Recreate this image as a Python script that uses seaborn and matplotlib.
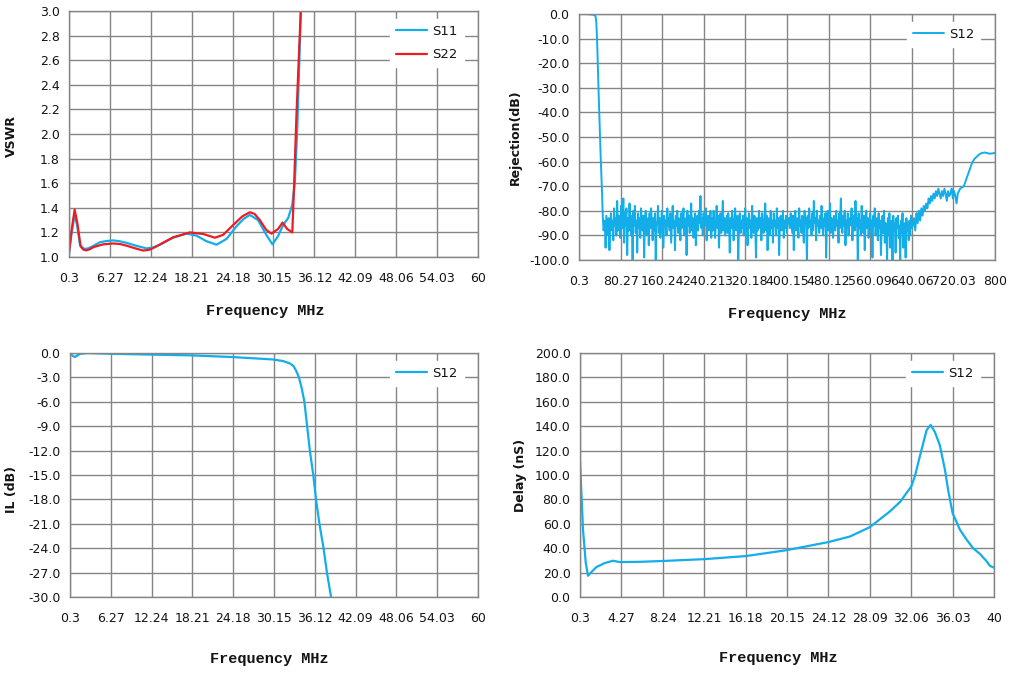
import numpy as np
import pandas as pd
import matplotlib
matplotlib.use("Agg")
import matplotlib.pyplot as plt
from matplotlib.ticker import FormatStrFormatter
import seaborn as sns

# ---------------- DATA ----------------
# VSWR (top-left)
vswr_s11_f = [0.3, 0.69, 1.13, 1.52, 1.9, 2.3, 2.63, 3.2, 3.85, 4.82, 5.8, 6.77, 7.7, 8.71, 10.2,
              11.63, 12.6, 13.57, 15.5, 17.46, 18.9, 20.38, 21.84, 23.3, 24.75, 25.8, 26.7, 27.9,
              29.1, 30.0, 30.8, 31.56, 32.3, 32.9, 33.26, 33.6, 33.9, 34.14, 34.5]
vswr_s11 = [1.03, 1.195, 1.345, 1.25, 1.10, 1.075, 1.065, 1.072, 1.09, 1.12, 1.13, 1.135, 1.128,
            1.115, 1.09, 1.07, 1.078, 1.10, 1.157, 1.19, 1.174, 1.128, 1.10, 1.147, 1.25, 1.31,
            1.342, 1.30, 1.18, 1.103, 1.168, 1.26, 1.317, 1.426, 1.60, 2.01, 2.55, 3.0, 3.6]
vswr_s22_f = [0.3, 0.69, 1.13, 1.52, 2.0, 2.4, 2.78, 3.3, 3.85, 5.3, 6.77, 7.8, 8.71, 10.0, 11.14,
              12.1, 13.09, 15.5, 17.95, 19.9, 21.6, 22.8, 24.27, 25.6, 26.7, 27.4, 28.16, 29.1,
              29.86, 30.83, 31.47, 32.15, 32.9, 33.17, 33.5, 33.9, 34.14, 34.5]
vswr_s22 = [1.03, 1.22, 1.385, 1.277, 1.087, 1.06, 1.054, 1.062, 1.08, 1.103, 1.11, 1.105, 1.092,
            1.07, 1.052, 1.06, 1.087, 1.16, 1.20, 1.187, 1.157, 1.18, 1.26, 1.33, 1.364, 1.35,
            1.30, 1.22, 1.19, 1.228, 1.28, 1.228, 1.20, 1.60, 2.145, 2.69, 3.0, 3.6]

# Rejection (top-right)
rej_start_f = [0.3, 10.0, 20.0, 28.0, 32.0, 33.5, 35.0, 38.5, 42.0, 44.5, 46.0, 47.5]
rej_start = [0.0, 0.0, -0.1, -0.3, -0.8, -3.0, -10.0, -35.0, -58.0, -72.0, -82.0, -88.0]
rej_noise_range = (48.5, 640.0)
rej_noise = [
    -87, -84, -95, -82, -86, -90, -83, -96, -85, -81, -88, -84, -92, -79, -86, -83, -90, -76, -88, -82,
    -85, -91, -78, -84, -87, -75, -93, -81, -86, -79, -98, -83, -88, -77, -85, -90, -82, -100, -80, -86,
    -78, -89, -84, -97, -81, -87, -83, -91, -79, -85, -88, -82, -99, -84, -80, -90, -86, -83, -94, -81,
    -87, -79, -85, -92, -83, -88, -81, -100, -86, -84, -78, -89, -83, -91, -85, -80, -87, -95, -82, -86,
    -84, -90, -79, -86, -83, -88, -81, -93, -85, -78, -87, -84, -96, -82, -86, -80, -89, -83, -85, -92,
    -81, -87, -84, -79, -90, -85, -83, -98, -80, -86, -82, -89, -84, -77, -88, -83, -91, -85, -81, -94,
    -86, -82, -88, -80, -85, -74, -87, -83, -90, -81, -86, -84, -79, -92, -85, -82, -88, -86, -80, -91,
    -83, -88, -80, -86, -91, -84, -78, -87, -82, -95, -85, -81, -89, -84, -76, -88, -83, -90, -86, -82,
    -89, -81, -85, -97, -83, -87, -80, -86, -92, -84, -79, -88, -85, -82, -100, -86, -81, -89, -84, -87,
    -82, -90, -85, -79, -88, -83, -94, -86, -81, -87, -84, -91, -78, -85, -89, -82, -86, -99, -83, -88,
    -85, -80, -87, -83, -92, -81, -86, -89, -84, -77, -88, -82, -96, -85, -83, -90, -80, -87, -84, -93,
    -81, -86, -84, -90, -79, -87, -83, -98, -85, -82, -88, -86, -80, -91, -84, -87, -82, -89, -85, -83,
    -83, -87, -81, -85, -89, -82, -96, -84, -80, -88, -85, -83, -91, -79, -86, -84, -89, -82, -87, -93,
    -80, -85, -83, -100, -82, -87, -79, -86, -84, -90, -81, -88, -76, -85, -83, -92, -80, -86, -84, -89,
    -82, -87, -78, -85, -90, -83, -86, -81, -99, -84, -80, -88, -85, -77, -89, -83, -86, -91, -82, -85,
    -88, -80, -86, -84, -93, -81, -87, -75, -85, -89, -82, -86, -80, -94, -84, -87, -81, -90, -83, -86,
    -84, -79, -92, -85, -82, -88, -76, -86, -83, -100, -81, -87, -84, -90, -78, -85, -89, -82, -96, -86,
    -80, -87, -83, -91, -85, -81, -88, -84, -99, -82, -86, -79, -90, -85, -83, -92, -81, -87, -84, -98,
    -86, -82, -89, -80, -93, -85, -87, -100, -83, -90, -81, -95, -86, -84, -100, -82, -88, -85, -97, -83,
    -87, -82, -91, -86, -100, -84, -89, -81, -95, -87, -85, -99, -83, -88, -86, -92, -84, -90, -82, -87,
]
rej_rise_range = (642.0, 733.0)
rej_rise = [-86, -83, -88, -81, -85, -80, -84, -79, -82, -78, -80, -77, -79, -75, -77, -74, -76, -73,
            -75, -72, -74, -71, -73, -75, -72, -74, -71, -73, -76, -72, -74, -73, -71, -75, -72, -74,
            -77, -73, -72, -71]
rej_end_f = [740.0, 745.0, 750.0, 755.0, 760.0, 765.0, 770.0, 775.0, 780.0, 790.0, 800.0]
rej_end = [-70.0, -67.0, -64.0, -61.0, -59.0, -58.0, -57.0, -56.5, -56.3, -56.8, -56.5]

# Insertion loss (bottom-left)
il_f = [0.3, 0.6, 1.0, 1.4, 1.8, 3.0, 6.0, 12.0, 18.0, 24.0, 28.0, 30.0, 31.5, 32.5, 33.0, 33.4,
        33.8, 34.2, 34.6, 35.0, 35.4, 35.9, 36.3, 36.8, 37.4, 37.9, 38.5]
il = [0.0, -0.3, -0.5, -0.3, -0.1, 0.0, -0.1, -0.2, -0.3, -0.5, -0.7, -0.8, -1.0, -1.3, -1.6, -2.2,
      -3.0, -4.3, -6.0, -9.0, -12.0, -15.0, -18.0, -21.0, -24.0, -27.0, -30.0]

# Group delay (bottom-right)
dl_f = [0.3, 0.59, 0.85, 1.07, 1.39, 1.87, 2.67, 3.47, 4.1, 6.0, 8.24, 12.21, 16.18, 20.15, 24.12,
        26.2, 28.09, 30.0, 31.0, 32.06, 32.4, 32.96, 33.54, 33.92, 34.34, 34.8, 35.3, 35.6, 36.03,
        36.74, 37.38, 38.0, 38.66, 39.3, 39.6, 40.0]
dl = [111.0, 55.0, 28.0, 17.4, 20.4, 24.5, 27.8, 29.7, 28.6, 28.8, 29.5, 31.0, 33.5, 38.4, 45.0,
      49.6, 57.2, 70.0, 78.0, 90.5, 98.6, 117.7, 136.8, 141.0, 135.0, 124.5, 104.0, 87.7, 68.7,
      55.0, 46.9, 40.0, 35.2, 29.2, 25.6, 24.0]

xt_60 = ["0.3", "6.27", "12.24", "18.21", "24.18", "30.15", "36.12", "42.09", "48.06", "54.03", "60"]
xt_800 = ["0.3", "80.27", "160.24", "240.21", "320.18", "400.15", "480.12", "560.09", "640.06", "720.03", "800"]
xt_40 = ["0.3", "4.27", "8.24", "12.21", "16.18", "20.15", "24.12", "28.09", "32.06", "36.03", "40"]

# ---------------- BUILD ----------------
rej_f = (rej_start_f
         + list(np.linspace(rej_noise_range[0], rej_noise_range[1], len(rej_noise)))
         + list(np.linspace(rej_rise_range[0], rej_rise_range[1], len(rej_rise)))
         + rej_end_f)
rej = rej_start + rej_noise + rej_rise + rej_end

sns.set_theme(style="white")
plt.rcParams["font.family"] = ["DejaVu Sans"]

BLUE = "#13AEEA"
RED = "#EC1C24"
GRID = "#858585"
TXT = "#141414"

fig = plt.figure(figsize=(10.17, 6.79), dpi=100)
fig.patch.set_facecolor("white")

ax_tl = fig.add_axes([0.0678, 0.6215, 0.4022, 0.3623])
ax_tr = fig.add_axes([0.5693, 0.6171, 0.4091, 0.3623])
ax_bl = fig.add_axes([0.0688, 0.1208, 0.4012, 0.3594])
ax_br = fig.add_axes([0.5703, 0.1208, 0.4071, 0.3594])

sns.lineplot(x=vswr_s11_f, y=vswr_s11, ax=ax_tl, color=BLUE, lw=1.6, label="S11",
             estimator=None, sort=False)
sns.lineplot(x=vswr_s22_f, y=vswr_s22, ax=ax_tl, color=RED, lw=1.6, label="S22",
             estimator=None, sort=False)
sns.lineplot(x=rej_f, y=rej, ax=ax_tr, color=BLUE, lw=1.4, label="S12",
             estimator=None, sort=False)
sns.lineplot(x=il_f, y=il, ax=ax_bl, color=BLUE, lw=1.6, label="S12",
             estimator=None, sort=False)
sns.lineplot(x=dl_f, y=dl, ax=ax_br, color=BLUE, lw=1.6, label="S12",
             estimator=None, sort=False)


def style(ax, xmin, xmax, xlabels, ymin, ymax, ystep, ylabel, ylab_pos, xlab_pos):
    xt = np.linspace(xmin, xmax, len(xlabels))
    ax.set_xlim(xmin, xmax)
    ax.set_xticks(xt)
    ax.set_xticklabels(xlabels)
    ax.set_ylim(ymin, ymax)
    ax.set_yticks(np.arange(ymin, ymax + ystep / 2, ystep))
    ax.yaxis.set_major_formatter(FormatStrFormatter("%.1f"))
    ax.grid(True, color=GRID, lw=1.0)
    ax.set_axisbelow(True)
    for s in ax.spines.values():
        s.set_visible(True)
        s.set_color(GRID)
        s.set_linewidth(1.0)
    ax.tick_params(axis="both", which="major", length=4.3, width=1.0, color=GRID,
                   labelsize=9, labelcolor=TXT)
    ax.tick_params(axis="x", pad=6.5)
    ax.tick_params(axis="y", pad=2.5)
    ax.set_ylabel(ylabel, fontsize=9, fontweight="bold", color=TXT)
    ax.yaxis.set_label_coords(*ylab_pos)
    ax.set_xlabel("Frequency MHz", fontsize=11, fontweight="bold", color=TXT,
                  family=["Liberation Mono", "DejaVu Sans Mono"])
    ax.xaxis.set_label_coords(*xlab_pos)
    leg = ax.legend(loc="upper right", bbox_to_anchor=(0.965, 0.968), borderaxespad=0,
                    frameon=True, fancybox=False, framealpha=1.0, facecolor="white",
                    edgecolor="white", fontsize=9.5, handlelength=2.35, handletextpad=0.4,
                    labelspacing=0.8, borderpad=0.45)
    for t in leg.get_texts():
        t.set_color(TXT)


style(ax_tl, 0.3, 60, xt_60, 1.0, 3.0, 0.2, "VSWR", (-0.125, 0.49), (0.48, -0.19))
style(ax_tr, 0.3, 800, xt_800, -100.0, 0.0, 10.0, "Rejection(dB)", (-0.137, 0.5), (0.5, -0.191))
style(ax_bl, 0.3, 60, xt_60, -30.0, 0.0, 3.0, "IL (dB)", (-0.127, 0.44), (0.488, -0.225))
style(ax_br, 0.3, 40, xt_40, 0.0, 200.0, 20.0, "Delay (nS)", (-0.128, 0.5), (0.478, -0.221))

fig.savefig("out.png", dpi=100, facecolor="white")
